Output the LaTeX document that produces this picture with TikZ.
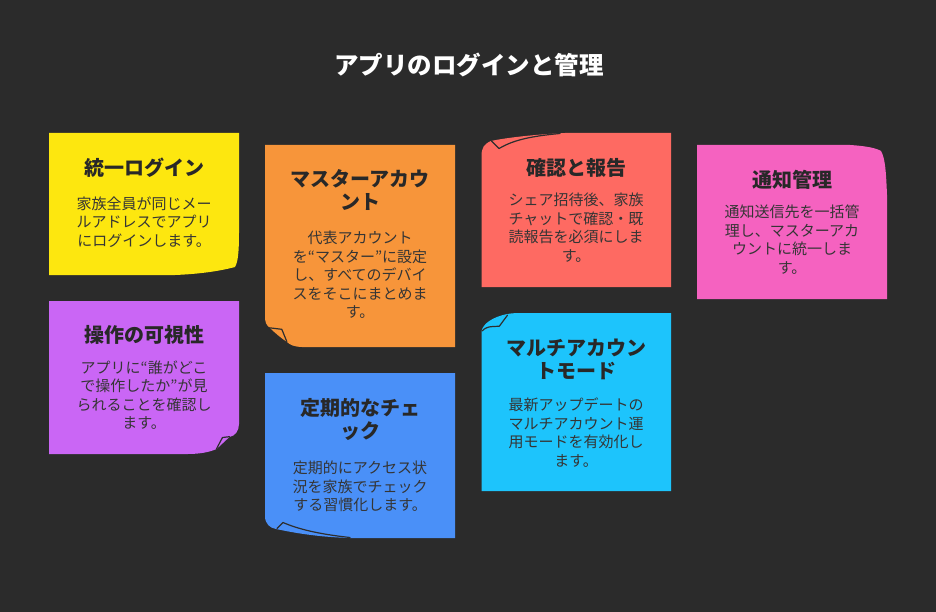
\documentclass[tikz,border=0pt]{standalone}
\usepackage{fontspec}
\setmainfont{Noto Sans CJK JP}
\definecolor{bg}{HTML}{2B2B2B}
\definecolor{cyel}{HTML}{FDE70F}
\definecolor{corg}{HTML}{F7953A}
\definecolor{cred}{HTML}{FE6A62}
\definecolor{cpnk}{HTML}{F562C0}
\definecolor{cpur}{HTML}{CA66F5}
\definecolor{cblu}{HTML}{4A90F8}
\definecolor{ccyn}{HTML}{1DC4FC}
\definecolor{titc}{HTML}{282828}
\definecolor{bodc}{HTML}{353535}
\definecolor{foldc}{HTML}{2E2E2E}
\begin{document}
\begin{tikzpicture}[x=1pt,y=-1pt,
  ttl/.style={font=\bfseries\fontsize{20}{23}\selectfont, text=titc, align=center, inner sep=0pt},
  bdy/.style={font=\fontsize{15}{18.5}\selectfont, text=bodc, align=center, inner sep=0pt},
  mainttl/.style={font=\bfseries\fontsize{24.5}{28}\selectfont, text=white, inner sep=0pt},
  foldline/.style={draw=foldc, line width=1.2pt, line join=round, line cap=round}]
\fill[bg] (0,0) rectangle (936,612);
\useasboundingbox (0,0) rectangle (936,612);

\node[mainttl] (title) at (469,65) {アプリのログインと管理};

% yellow
\fill[cyel] (49,133) -- (239,133) -- (239,232) .. controls (239,252) and (238,262) .. (235,267)
  .. controls (220,271) and (200,274) .. (175,275) -- (49,275) -- cycle;
\node[ttl] (t1) at (144,168) {統一ログイン};
\node[bdy] (b1) at (144,221.7) {家族全員が同じメー\\ルアドレスでアプリ\\にログインします。};

% orange
\fill[corg] (265,145) -- (455,145) -- (455,347) -- (302,347) .. controls (295,347) and (290,345) .. (287,342)
  .. controls (281,338) and (275,333) .. (270,328) .. controls (266,325) and (265,322) .. (265,316) -- cycle;
\draw[foldline] (269.5,327.8) -- (281.8,329.3) -- (286.8,341.5);
\node[ttl] (t2) at (360,190.5) {マスターアカウ\\ント};
\node[bdy] (b2) at (360,275) {代表アカウント\\を“マスター”に設定\\し、すべてのデバイ\\スをそこにまとめま\\す。};

% red
\fill[cred] (481.5,287) -- (481.5,156) .. controls (481.5,148) and (484,144) .. (491,141)
  .. controls (500,139) and (525,135) .. (565,133) -- (671,133) -- (671,287) -- cycle;
\draw[foldline] (491.5,141) -- (499,148.5) .. controls (512,141) and (527,136.5) .. (560,133.5);
\node[ttl] (t3) at (576,168) {確認と報告};
\node[bdy] (b3) at (576,227.5) {シェア招待後、家族\\チャットで確認・既\\読報告を必須にしま\\す。};

% pink
\fill[cpnk] (697,145) -- (850,145) .. controls (866,146) and (876,148) .. (881,151)
  .. controls (885,158) and (886,170) .. (887,195) -- (887,299) -- (697,299) -- cycle;
\node[ttl] (t4) at (792,180) {通知管理};
\node[bdy] (b4) at (792,239.5) {通知送信先を一括管\\理し、マスターアカ\\ウントに統一しま\\す。};

% purple
\fill[cpur] (49,301) -- (239,301) -- (239,424) .. controls (239,431) and (235,436) .. (229.5,437)
  .. controls (225,441) and (220,446) .. (216.5,449) .. controls (210,452) and (200,454) .. (188,454)
  -- (49,454) -- cycle;
\draw[foldline] (229.5,436.7) -- (222.5,437.5) -- (216.5,448.8);
\node[ttl] (t5) at (144,335) {操作の可視性};
\node[bdy] (b5) at (144,395) {アプリに“誰がどこ\\で操作したか”が見\\られることを確認し\\ます。};

% blue
\fill[cblu] (265,373) -- (455,373) -- (455,538) -- (350,538) .. controls (318,537) and (295,533) .. (276,529)
  .. controls (270,528) and (265,524) .. (265,516) -- cycle;
\draw[foldline] (277,528.5) -- (283,522.5) .. controls (298,529) and (318,534) .. (350,537.5);
\node[ttl] (t6) at (360,419) {定期的なチェ\\ック};
\node[bdy] (b6) at (360,486.7) {定期的にアクセス状\\況を家族でチェック\\する習慣化します。};

% cyan
\fill[ccyn] (481.5,491) -- (481.5,331) .. controls (483,324) and (492,317) .. (507.5,314)
  .. controls (512,313.2) and (516,313) .. (522,313) -- (671,313) -- (671,491) -- cycle;
\draw[foldline] (482,331) .. controls (485,328) and (488,326.8) .. (492,326.6) -- (499.3,326.2) -- (507.5,315.2);
\node[ttl] (t7) at (576,359) {マルチアカウン\\トモード};
\node[bdy] (b7) at (576,432.5) {最新アップデートの\\マルチアカウント運\\用モードを有効化し\\ます。};
\end{tikzpicture}
\end{document}
